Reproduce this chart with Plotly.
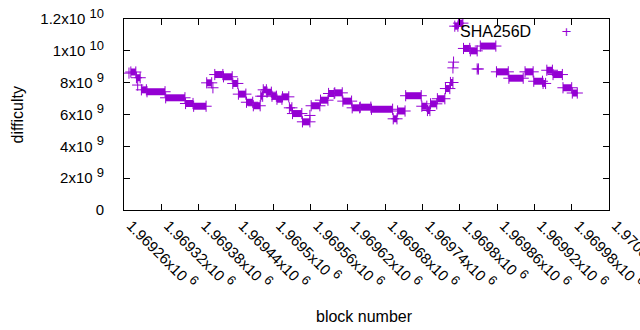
import plotly.graph_objects as go

# ---- data (runs of near-constant difficulty) ----
run_start = [1969271, 1969280, 1969288, 1969297, 1969327, 1969359, 1969372, 1969393,
             1969406, 1969420, 1969435, 1969444, 1969457, 1969468, 1969480, 1969484,
             1969490, 1969498, 1969506, 1969515, 1969526, 1969531, 1969547, 1969561,
             1969576, 1969589, 1969599, 1969612, 1969627, 1969640, 1969658, 1969693,
             1969700, 1969713, 1969739, 1969748, 1969753, 1969764, 1969777, 1969785,
             1969792, 1969798, 1969806, 1969817, 1969828, 1969833, 1969859, 1969879,
             1969905, 1969919, 1969934, 1969940, 1969950, 1969966, 1969981]
run_end = [1969279, 1969286, 1969296, 1969326, 1969358, 1969371, 1969392, 1969401,
           1969419, 1969434, 1969443, 1969456, 1969467, 1969479, 1969483, 1969489,
           1969497, 1969505, 1969514, 1969525, 1969530, 1969546, 1969559, 1969575,
           1969588, 1969598, 1969611, 1969626, 1969639, 1969657, 1969692, 1969699,
           1969712, 1969738, 1969747, 1969752, 1969763, 1969776, 1969784, 1969789,
           1969797, 1969805, 1969816, 1969828, 1969830, 1969858, 1969878, 1969902,
           1969918, 1969933, 1969938, 1969949, 1969965, 1969980, 1969989]
run_value = [8.67e9, 8.31e9, 7.55e9, 7.43e9, 7.05e9, 6.69e9, 6.52e9, 7.99e9,
             8.51e9, 8.37e9, 7.95e9, 7.28e9, 6.77e9, 6.55e9, 7.15e9, 7.55e9,
             7.40e9, 7.15e9, 6.96e9, 7.11e9, 6.42e9, 6.06e9, 5.54e9, 6.55e9,
             6.90e9, 7.32e9, 7.36e9, 6.84e9, 6.42e9, 6.46e9, 6.33e9, 5.73e9,
             6.22e9, 7.18e9, 6.52e9, 6.25e9, 6.67e9, 6.99e9, 7.63e9, 8.01e9,
             11.55e9, 11.74e9, 10.15e9, 10.00e9, 8.86e9, 10.30e9, 8.68e9, 8.28e9,
             8.68e9, 8.09e9, 7.95e9, 8.78e9, 8.51e9, 7.68e9, 7.35e9]

single_block = [1969268, 1969403, 1969559, 1969789, 1969790, 1969282]
single_value = [8.60e9, 7.68e9, 5.94e9, 8.93e9, 9.29e9, 7.85e9]

x_tick_vals = [1969260, 1969320, 1969380, 1969440, 1969500, 1969560, 1969620,
               1969680, 1969740, 1969800, 1969860, 1969920, 1969980, 1970040]
x_tick_base = ["1.96926x10", "1.96932x10", "1.96938x10", "1.96944x10", "1.9695x10",
               "1.96956x10", "1.96962x10", "1.96968x10", "1.96974x10", "1.9698x10",
               "1.96986x10", "1.96992x10", "1.96998x10", "1.97004x10"]
x_tick_exp = ["6"] * 14
y_tick_vals = [0, 2e9, 4e9, 6e9, 8e9, 1e10, 1.2e10]
y_tick_base = ["0", "2x10", "4x10", "6x10", "8x10", "1x10", "1.2x10"]
y_tick_exp = ["", "9", "9", "9", "9", "10", "10"]

COLOR = "#9400d3"
FONT = "Liberation Sans, Arial, sans-serif"


def sup_label(base, exp):
    if not exp:
        return base
    return base + " <sup><span style='font-size:13px'>" + exp + "</span></sup>"


x_tick_text = [sup_label(b, e) for b, e in zip(x_tick_base, x_tick_exp)]
y_tick_text = [sup_label(b, e) for b, e in zip(y_tick_base, y_tick_exp)]

xs, ys = [], []
for s, e, v in zip(run_start, run_end, run_value):
    xs += [s, e, None]
    ys += [v, v, None]

fig = go.Figure()
fig.add_trace(go.Scatter(
    x=xs, y=ys, mode="lines+markers", name="SHA256D",
    line=dict(color=COLOR, width=7),
    marker=dict(symbol="cross-thin", size=8, color=COLOR,
                line=dict(color=COLOR, width=1)),
    showlegend=False))
fig.add_trace(go.Scatter(
    x=single_block, y=single_value, mode="markers", name="SHA256D",
    marker=dict(symbol="cross-thin", size=8, color=COLOR,
                line=dict(color=COLOR, width=1)),
    showlegend=False))

axis_common = dict(showgrid=False, zeroline=False, showline=True, linecolor="black",
                   linewidth=1, mirror="ticks", ticks="inside", ticklen=6,
                   tickcolor="black", tickfont=dict(family=FONT, size=15, color="black"))

fig.update_xaxes(range=[1969260, 1970040], tickvals=x_tick_vals, ticktext=x_tick_text,
                 tickangle=45, ticklabelshift=7, ticklabeloverflow="allow", **axis_common)
fig.update_yaxes(range=[0, 1.2e10], tickvals=y_tick_vals, ticktext=y_tick_text,
                 ticklabelstandoff=16, **axis_common)

fig.add_annotation(text="block number", xref="paper", yref="paper", x=0.495, y=0,
                   yshift=-106, showarrow=False, yanchor="middle",
                   font=dict(family=FONT, size=16, color="black"))
fig.add_annotation(text="difficulty", xref="paper", yref="paper", x=0, y=0.5,
                   xshift=-107, textangle=-90, showarrow=False, xanchor="center",
                   font=dict(family=FONT, size=16, color="black"))
fig.add_annotation(text="SHA256D", xref="paper", yref="paper", x=0.8428, y=0.935,
                   xanchor="right", yanchor="middle", showarrow=False,
                   font=dict(family=FONT, size=16, color="black"))
fig.add_annotation(text="+", xref="paper", yref="paper", x=0.912, y=0.935,
                   xanchor="center", yanchor="middle", showarrow=False,
                   font=dict(family="DejaVu Sans", size=13, color=COLOR))

fig.update_layout(width=640, height=330, plot_bgcolor="white", paper_bgcolor="white",
                  margin=dict(l=124, r=31, t=19, b=120, autoexpand=False),
                  font=dict(family=FONT, size=15, color="black"))

fig.write_html("out.html", config={"displayModeBar": False},
               post_script="document.body.style.margin='0';document.body.style.overflow='hidden';")
